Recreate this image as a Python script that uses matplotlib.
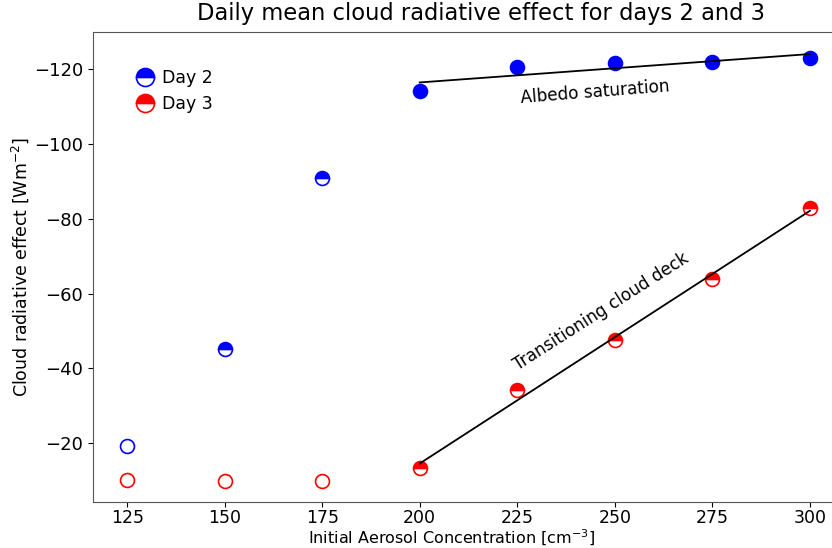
import numpy as np
import matplotlib.pyplot as plt

# aerosol concentrations (cm^-3)
aerosol = [125, 150, 175, 200, 225, 250, 275, 300]

# daily mean cloud radiative effect (W m^-2)
cre_day2 = [-19.2, -45.1, -90.8, -114.3, -120.5, -121.6, -122.1, -123.0]
cre_day3 = [-10.2, -9.9, -9.9, -13.2, -34.1, -47.5, -64.0, -82.8]

# marker fill for each point
fill_day2 = ['none', 'top', 'top', 'full', 'full', 'full', 'full', 'full']
fill_day3 = ['none', 'none', 'none', 'top', 'top', 'top', 'top', 'top']

fig = plt.figure(figsize=(8.32, 5.48), dpi=100)
# axes run past the right edge of the picture, as in the original crop
ax = fig.add_axes([93 / 832, 1 - 502 / 548, (844 - 93) / 832, (502 - 32) / 548])

for x, y, f in zip(aerosol, cre_day2, fill_day2):
    ax.plot(x, y, 'o', color='blue', fillstyle=f, markerfacecoloralt='white',
            markersize=10, markeredgewidth=1.2)
for x, y, f in zip(aerosol, cre_day3, fill_day3):
    ax.plot(x, y, 'o', color='red', fillstyle=f, markerfacecoloralt='white',
            markersize=10, markeredgewidth=1.2)

# linear fits over the saturated range
xs = np.array(aerosol[3:])
p2 = np.polyfit(xs, cre_day2[3:], 1)
p3 = np.polyfit(xs, cre_day3[3:], 1)
ax.plot(xs, np.polyval(p2, xs), 'k-', lw=1.3)
ax.plot(xs, np.polyval(p3, xs), 'k-', lw=1.3)

ax.text(245, -113.9, 'Albedo saturation', fontsize=12.2, rotation=4.5,
        ha='center', va='center')
ax.text(246.4, -55.1, 'Transitioning cloud deck', fontsize=12.2, rotation=32.5,
        ha='center', va='center')

# legend
h2, = ax.plot([], [], 'o', color='blue', fillstyle='top', markerfacecoloralt='white',
              markersize=10, markeredgewidth=1.2)
h3, = ax.plot([], [], 'o', color='red', fillstyle='top', markerfacecoloralt='white',
              markersize=10, markeredgewidth=1.2)
ax.legend([h2, h3], ['Day 2', 'Day 3'], loc='upper left', frameon=False,
          fontsize=12.5, markerscale=1.3, handletextpad=0.0,
          bbox_to_anchor=(0.025, 0.955), labelspacing=0.5)

ax.set_xlim(116.25, 308.75)
ax.set_ylim(-4.2, -130)
ax.set_xticks([125, 150, 175, 200, 225, 250, 275, 300])
ax.set_yticks([-20, -40, -60, -80, -100, -120])
ax.tick_params(labelsize=13)
ax.tick_params(axis='x', pad=1.5, labelsize=12.5)
ax.set_ylabel('Cloud radiative effect [Wm$^{-2}$]', fontsize=12.5, labelpad=2)
for s in ax.spines.values():
    s.set_color('#555555')
fig.text(452 / 832, 1 - 537.5 / 548, 'Initial Aerosol Concentration [cm$^{-3}$]',
         fontsize=11.5, ha='center', va='center')
fig.text(481 / 832, 0.997, 'Daily mean cloud radiative effect for days 2 and 3',
         fontsize=16.3, ha='center', va='top')

fig.savefig('out.png', dpi=100)
